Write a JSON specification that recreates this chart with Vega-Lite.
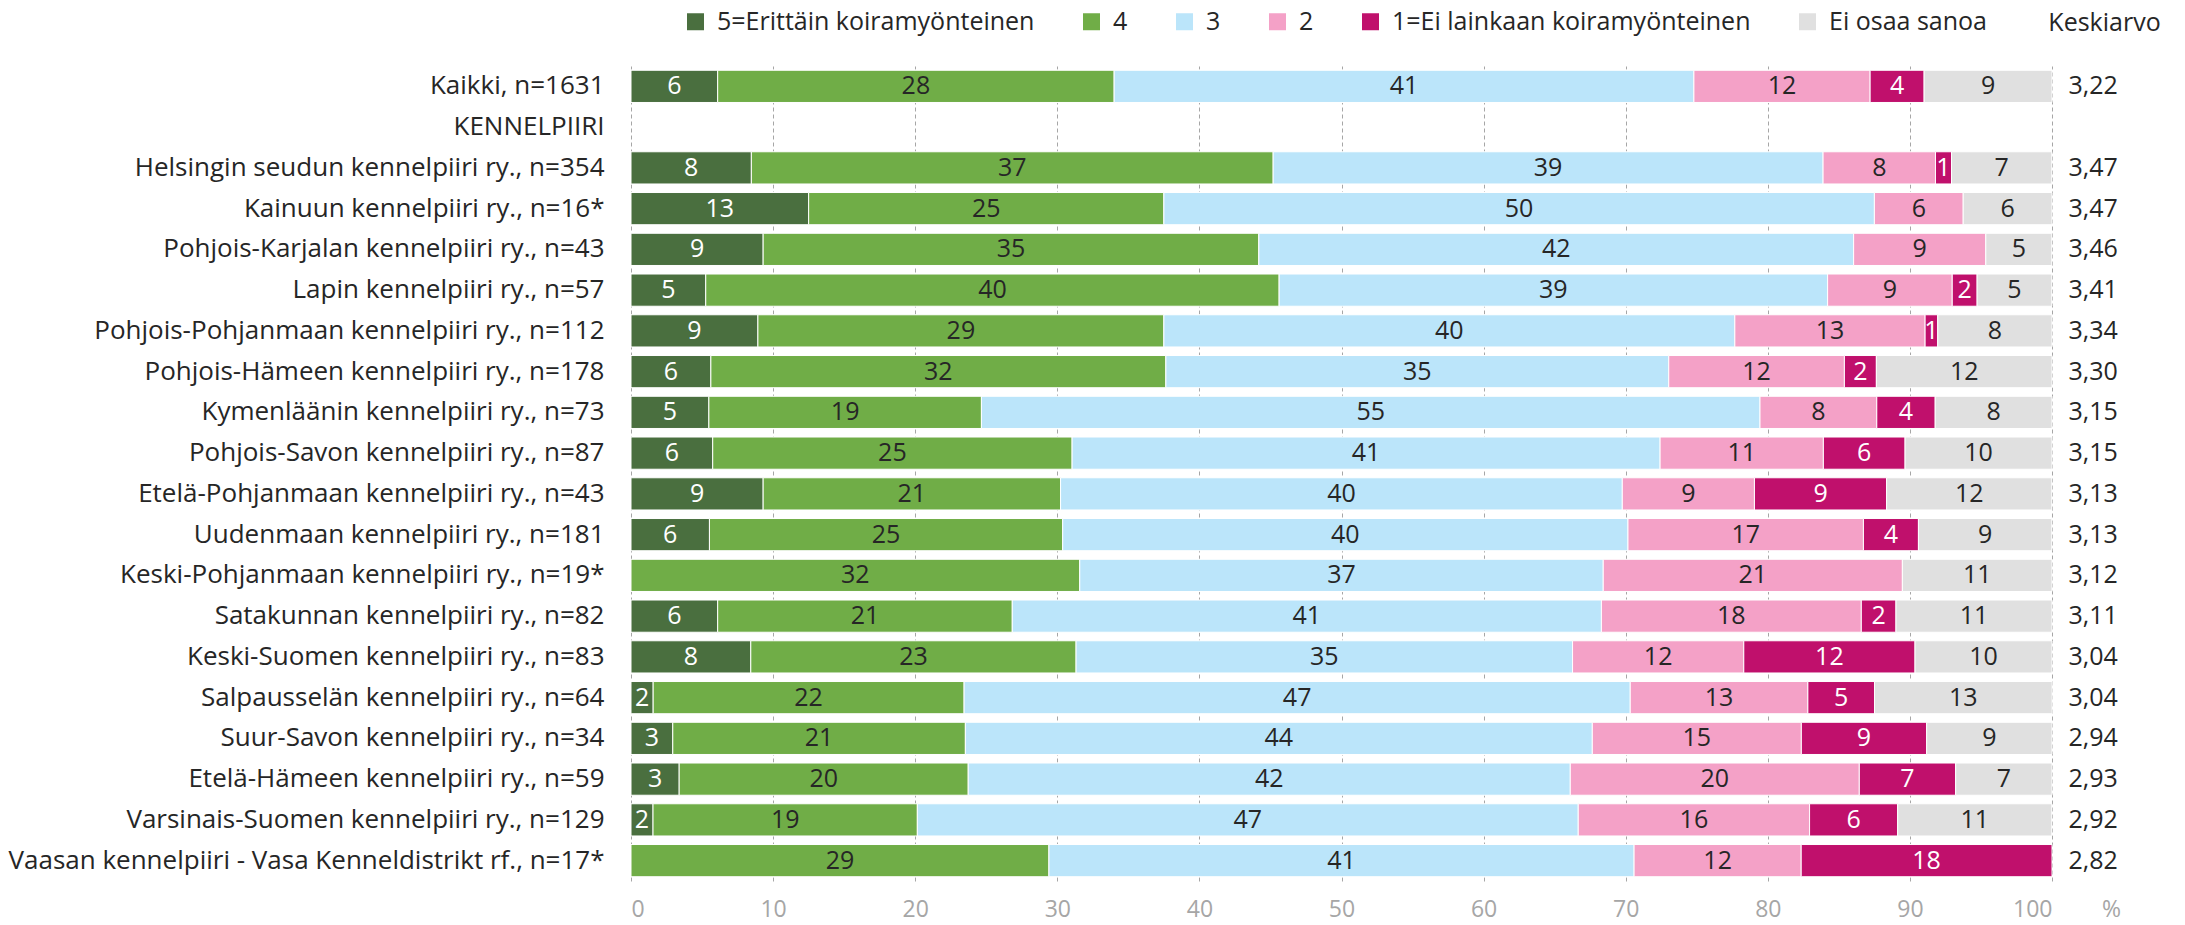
{
  "$schema": "https://vega.github.io/schema/vega-lite/v6.json",
  "width": 1421,
  "height": 815,
  "autosize": {"type": "none"},
  "padding": {"left": 631, "top": 66, "right": 133, "bottom": 44},
  "config": {
    "font": "Open Sans",
    "view": {"stroke": null},
    "locale": {"number": {"decimal": ",", "thousands": " ", "grouping": [3], "currency": ["", " €"]}}
  },
  "datasets": {
    "bars": [
      {"g": "Kaikki, n=1631", "c": "5=Erittäin koiramyönteinen", "k": 1, "v": 6.1},
      {"g": "Kaikki, n=1631", "c": "4", "k": 2, "v": 27.9},
      {"g": "Kaikki, n=1631", "c": "3", "k": 3, "v": 40.8},
      {"g": "Kaikki, n=1631", "c": "2", "k": 4, "v": 12.4},
      {"g": "Kaikki, n=1631", "c": "1=Ei lainkaan koiramyönteinen", "k": 5, "v": 3.8},
      {"g": "Kaikki, n=1631", "c": "Ei osaa sanoa", "k": 6, "v": 9.0},

      {"g": "Helsingin seudun kennelpiiri ry., n=354", "c": "5=Erittäin koiramyönteinen", "k": 1, "v": 8.47},
      {"g": "Helsingin seudun kennelpiiri ry., n=354", "c": "4", "k": 2, "v": 36.72},
      {"g": "Helsingin seudun kennelpiiri ry., n=354", "c": "3", "k": 3, "v": 38.70},
      {"g": "Helsingin seudun kennelpiiri ry., n=354", "c": "2", "k": 4, "v": 7.91},
      {"g": "Helsingin seudun kennelpiiri ry., n=354", "c": "1=Ei lainkaan koiramyönteinen", "k": 5, "v": 1.13},
      {"g": "Helsingin seudun kennelpiiri ry., n=354", "c": "Ei osaa sanoa", "k": 6, "v": 7.06},

      {"g": "Kainuun kennelpiiri ry., n=16*", "c": "5=Erittäin koiramyönteinen", "k": 1, "v": 12.5},
      {"g": "Kainuun kennelpiiri ry., n=16*", "c": "4", "k": 2, "v": 25},
      {"g": "Kainuun kennelpiiri ry., n=16*", "c": "3", "k": 3, "v": 50},
      {"g": "Kainuun kennelpiiri ry., n=16*", "c": "2", "k": 4, "v": 6.25},
      {"g": "Kainuun kennelpiiri ry., n=16*", "c": "Ei osaa sanoa", "k": 6, "v": 6.25},

      {"g": "Pohjois-Karjalan kennelpiiri ry., n=43", "c": "5=Erittäin koiramyönteinen", "k": 1, "v": 9.30},
      {"g": "Pohjois-Karjalan kennelpiiri ry., n=43", "c": "4", "k": 2, "v": 34.88},
      {"g": "Pohjois-Karjalan kennelpiiri ry., n=43", "c": "3", "k": 3, "v": 41.86},
      {"g": "Pohjois-Karjalan kennelpiiri ry., n=43", "c": "2", "k": 4, "v": 9.30},
      {"g": "Pohjois-Karjalan kennelpiiri ry., n=43", "c": "Ei osaa sanoa", "k": 6, "v": 4.65},

      {"g": "Lapin kennelpiiri ry., n=57", "c": "5=Erittäin koiramyönteinen", "k": 1, "v": 5.26},
      {"g": "Lapin kennelpiiri ry., n=57", "c": "4", "k": 2, "v": 40.35},
      {"g": "Lapin kennelpiiri ry., n=57", "c": "3", "k": 3, "v": 38.60},
      {"g": "Lapin kennelpiiri ry., n=57", "c": "2", "k": 4, "v": 8.77},
      {"g": "Lapin kennelpiiri ry., n=57", "c": "1=Ei lainkaan koiramyönteinen", "k": 5, "v": 1.75},
      {"g": "Lapin kennelpiiri ry., n=57", "c": "Ei osaa sanoa", "k": 6, "v": 5.26},

      {"g": "Pohjois-Pohjanmaan kennelpiiri ry., n=112", "c": "5=Erittäin koiramyönteinen", "k": 1, "v": 8.93},
      {"g": "Pohjois-Pohjanmaan kennelpiiri ry., n=112", "c": "4", "k": 2, "v": 28.57},
      {"g": "Pohjois-Pohjanmaan kennelpiiri ry., n=112", "c": "3", "k": 3, "v": 40.18},
      {"g": "Pohjois-Pohjanmaan kennelpiiri ry., n=112", "c": "2", "k": 4, "v": 13.39},
      {"g": "Pohjois-Pohjanmaan kennelpiiri ry., n=112", "c": "1=Ei lainkaan koiramyönteinen", "k": 5, "v": 0.89},
      {"g": "Pohjois-Pohjanmaan kennelpiiri ry., n=112", "c": "Ei osaa sanoa", "k": 6, "v": 8.04},

      {"g": "Pohjois-Hämeen kennelpiiri ry., n=178", "c": "5=Erittäin koiramyönteinen", "k": 1, "v": 5.62},
      {"g": "Pohjois-Hämeen kennelpiiri ry., n=178", "c": "4", "k": 2, "v": 32.02},
      {"g": "Pohjois-Hämeen kennelpiiri ry., n=178", "c": "3", "k": 3, "v": 35.39},
      {"g": "Pohjois-Hämeen kennelpiiri ry., n=178", "c": "2", "k": 4, "v": 12.36},
      {"g": "Pohjois-Hämeen kennelpiiri ry., n=178", "c": "1=Ei lainkaan koiramyönteinen", "k": 5, "v": 2.25},
      {"g": "Pohjois-Hämeen kennelpiiri ry., n=178", "c": "Ei osaa sanoa", "k": 6, "v": 12.36},

      {"g": "Kymenläänin kennelpiiri ry., n=73", "c": "5=Erittäin koiramyönteinen", "k": 1, "v": 5.48},
      {"g": "Kymenläänin kennelpiiri ry., n=73", "c": "4", "k": 2, "v": 19.18},
      {"g": "Kymenläänin kennelpiiri ry., n=73", "c": "3", "k": 3, "v": 54.79},
      {"g": "Kymenläänin kennelpiiri ry., n=73", "c": "2", "k": 4, "v": 8.22},
      {"g": "Kymenläänin kennelpiiri ry., n=73", "c": "1=Ei lainkaan koiramyönteinen", "k": 5, "v": 4.11},
      {"g": "Kymenläänin kennelpiiri ry., n=73", "c": "Ei osaa sanoa", "k": 6, "v": 8.22},

      {"g": "Pohjois-Savon kennelpiiri ry., n=87", "c": "5=Erittäin koiramyönteinen", "k": 1, "v": 5.75},
      {"g": "Pohjois-Savon kennelpiiri ry., n=87", "c": "4", "k": 2, "v": 25.29},
      {"g": "Pohjois-Savon kennelpiiri ry., n=87", "c": "3", "k": 3, "v": 41.38},
      {"g": "Pohjois-Savon kennelpiiri ry., n=87", "c": "2", "k": 4, "v": 11.49},
      {"g": "Pohjois-Savon kennelpiiri ry., n=87", "c": "1=Ei lainkaan koiramyönteinen", "k": 5, "v": 5.75},
      {"g": "Pohjois-Savon kennelpiiri ry., n=87", "c": "Ei osaa sanoa", "k": 6, "v": 10.34},

      {"g": "Etelä-Pohjanmaan kennelpiiri ry., n=43", "c": "5=Erittäin koiramyönteinen", "k": 1, "v": 9.30},
      {"g": "Etelä-Pohjanmaan kennelpiiri ry., n=43", "c": "4", "k": 2, "v": 20.93},
      {"g": "Etelä-Pohjanmaan kennelpiiri ry., n=43", "c": "3", "k": 3, "v": 39.53},
      {"g": "Etelä-Pohjanmaan kennelpiiri ry., n=43", "c": "2", "k": 4, "v": 9.30},
      {"g": "Etelä-Pohjanmaan kennelpiiri ry., n=43", "c": "1=Ei lainkaan koiramyönteinen", "k": 5, "v": 9.30},
      {"g": "Etelä-Pohjanmaan kennelpiiri ry., n=43", "c": "Ei osaa sanoa", "k": 6, "v": 11.63},

      {"g": "Uudenmaan kennelpiiri ry., n=181", "c": "5=Erittäin koiramyönteinen", "k": 1, "v": 5.52},
      {"g": "Uudenmaan kennelpiiri ry., n=181", "c": "4", "k": 2, "v": 24.86},
      {"g": "Uudenmaan kennelpiiri ry., n=181", "c": "3", "k": 3, "v": 39.78},
      {"g": "Uudenmaan kennelpiiri ry., n=181", "c": "2", "k": 4, "v": 16.57},
      {"g": "Uudenmaan kennelpiiri ry., n=181", "c": "1=Ei lainkaan koiramyönteinen", "k": 5, "v": 3.87},
      {"g": "Uudenmaan kennelpiiri ry., n=181", "c": "Ei osaa sanoa", "k": 6, "v": 9.39},

      {"g": "Keski-Pohjanmaan kennelpiiri ry., n=19*", "c": "4", "k": 2, "v": 31.58},
      {"g": "Keski-Pohjanmaan kennelpiiri ry., n=19*", "c": "3", "k": 3, "v": 36.84},
      {"g": "Keski-Pohjanmaan kennelpiiri ry., n=19*", "c": "2", "k": 4, "v": 21.05},
      {"g": "Keski-Pohjanmaan kennelpiiri ry., n=19*", "c": "Ei osaa sanoa", "k": 6, "v": 10.53},

      {"g": "Satakunnan kennelpiiri ry., n=82", "c": "5=Erittäin koiramyönteinen", "k": 1, "v": 6.10},
      {"g": "Satakunnan kennelpiiri ry., n=82", "c": "4", "k": 2, "v": 20.73},
      {"g": "Satakunnan kennelpiiri ry., n=82", "c": "3", "k": 3, "v": 41.46},
      {"g": "Satakunnan kennelpiiri ry., n=82", "c": "2", "k": 4, "v": 18.29},
      {"g": "Satakunnan kennelpiiri ry., n=82", "c": "1=Ei lainkaan koiramyönteinen", "k": 5, "v": 2.44},
      {"g": "Satakunnan kennelpiiri ry., n=82", "c": "Ei osaa sanoa", "k": 6, "v": 10.98},

      {"g": "Keski-Suomen kennelpiiri ry., n=83", "c": "5=Erittäin koiramyönteinen", "k": 1, "v": 8.43},
      {"g": "Keski-Suomen kennelpiiri ry., n=83", "c": "4", "k": 2, "v": 22.89},
      {"g": "Keski-Suomen kennelpiiri ry., n=83", "c": "3", "k": 3, "v": 34.94},
      {"g": "Keski-Suomen kennelpiiri ry., n=83", "c": "2", "k": 4, "v": 12.05},
      {"g": "Keski-Suomen kennelpiiri ry., n=83", "c": "1=Ei lainkaan koiramyönteinen", "k": 5, "v": 12.05},
      {"g": "Keski-Suomen kennelpiiri ry., n=83", "c": "Ei osaa sanoa", "k": 6, "v": 9.64},

      {"g": "Salpausselän kennelpiiri ry., n=64", "c": "5=Erittäin koiramyönteinen", "k": 1, "v": 1.56},
      {"g": "Salpausselän kennelpiiri ry., n=64", "c": "4", "k": 2, "v": 21.88},
      {"g": "Salpausselän kennelpiiri ry., n=64", "c": "3", "k": 3, "v": 46.88},
      {"g": "Salpausselän kennelpiiri ry., n=64", "c": "2", "k": 4, "v": 12.5},
      {"g": "Salpausselän kennelpiiri ry., n=64", "c": "1=Ei lainkaan koiramyönteinen", "k": 5, "v": 4.69},
      {"g": "Salpausselän kennelpiiri ry., n=64", "c": "Ei osaa sanoa", "k": 6, "v": 12.5},

      {"g": "Suur-Savon kennelpiiri ry., n=34", "c": "5=Erittäin koiramyönteinen", "k": 1, "v": 2.94},
      {"g": "Suur-Savon kennelpiiri ry., n=34", "c": "4", "k": 2, "v": 20.59},
      {"g": "Suur-Savon kennelpiiri ry., n=34", "c": "3", "k": 3, "v": 44.12},
      {"g": "Suur-Savon kennelpiiri ry., n=34", "c": "2", "k": 4, "v": 14.71},
      {"g": "Suur-Savon kennelpiiri ry., n=34", "c": "1=Ei lainkaan koiramyönteinen", "k": 5, "v": 8.82},
      {"g": "Suur-Savon kennelpiiri ry., n=34", "c": "Ei osaa sanoa", "k": 6, "v": 8.82},

      {"g": "Etelä-Hämeen kennelpiiri ry., n=59", "c": "5=Erittäin koiramyönteinen", "k": 1, "v": 3.39},
      {"g": "Etelä-Hämeen kennelpiiri ry., n=59", "c": "4", "k": 2, "v": 20.34},
      {"g": "Etelä-Hämeen kennelpiiri ry., n=59", "c": "3", "k": 3, "v": 42.37},
      {"g": "Etelä-Hämeen kennelpiiri ry., n=59", "c": "2", "k": 4, "v": 20.34},
      {"g": "Etelä-Hämeen kennelpiiri ry., n=59", "c": "1=Ei lainkaan koiramyönteinen", "k": 5, "v": 6.78},
      {"g": "Etelä-Hämeen kennelpiiri ry., n=59", "c": "Ei osaa sanoa", "k": 6, "v": 6.78},

      {"g": "Varsinais-Suomen kennelpiiri ry., n=129", "c": "5=Erittäin koiramyönteinen", "k": 1, "v": 1.55},
      {"g": "Varsinais-Suomen kennelpiiri ry., n=129", "c": "4", "k": 2, "v": 18.60},
      {"g": "Varsinais-Suomen kennelpiiri ry., n=129", "c": "3", "k": 3, "v": 46.51},
      {"g": "Varsinais-Suomen kennelpiiri ry., n=129", "c": "2", "k": 4, "v": 16.28},
      {"g": "Varsinais-Suomen kennelpiiri ry., n=129", "c": "1=Ei lainkaan koiramyönteinen", "k": 5, "v": 6.20},
      {"g": "Varsinais-Suomen kennelpiiri ry., n=129", "c": "Ei osaa sanoa", "k": 6, "v": 10.85},

      {"g": "Vaasan kennelpiiri - Vasa Kenneldistrikt rf., n=17*", "c": "4", "k": 2, "v": 29.41},
      {"g": "Vaasan kennelpiiri - Vasa Kenneldistrikt rf., n=17*", "c": "3", "k": 3, "v": 41.18},
      {"g": "Vaasan kennelpiiri - Vasa Kenneldistrikt rf., n=17*", "c": "2", "k": 4, "v": 11.76},
      {"g": "Vaasan kennelpiiri - Vasa Kenneldistrikt rf., n=17*", "c": "1=Ei lainkaan koiramyönteinen", "k": 5, "v": 17.65}
    ],
    "means": [
      {"g": "Kaikki, n=1631", "m": 3.22},
      {"g": "Helsingin seudun kennelpiiri ry., n=354", "m": 3.47},
      {"g": "Kainuun kennelpiiri ry., n=16*", "m": 3.47},
      {"g": "Pohjois-Karjalan kennelpiiri ry., n=43", "m": 3.46},
      {"g": "Lapin kennelpiiri ry., n=57", "m": 3.41},
      {"g": "Pohjois-Pohjanmaan kennelpiiri ry., n=112", "m": 3.34},
      {"g": "Pohjois-Hämeen kennelpiiri ry., n=178", "m": 3.30},
      {"g": "Kymenläänin kennelpiiri ry., n=73", "m": 3.15},
      {"g": "Pohjois-Savon kennelpiiri ry., n=87", "m": 3.15},
      {"g": "Etelä-Pohjanmaan kennelpiiri ry., n=43", "m": 3.13},
      {"g": "Uudenmaan kennelpiiri ry., n=181", "m": 3.13},
      {"g": "Keski-Pohjanmaan kennelpiiri ry., n=19*", "m": 3.12},
      {"g": "Satakunnan kennelpiiri ry., n=82", "m": 3.11},
      {"g": "Keski-Suomen kennelpiiri ry., n=83", "m": 3.04},
      {"g": "Salpausselän kennelpiiri ry., n=64", "m": 3.04},
      {"g": "Suur-Savon kennelpiiri ry., n=34", "m": 2.94},
      {"g": "Etelä-Hämeen kennelpiiri ry., n=59", "m": 2.93},
      {"g": "Varsinais-Suomen kennelpiiri ry., n=129", "m": 2.92},
      {"g": "Vaasan kennelpiiri - Vasa Kenneldistrikt rf., n=17*", "m": 2.82}
    ]
  },
  "encoding": {
    "y": {
      "field": "g",
      "type": "nominal",
      "title": "Keskiarvo",
      "scale": {
        "domain": [
          "Kaikki, n=1631",
          "KENNELPIIRI",
          "Helsingin seudun kennelpiiri ry., n=354",
          "Kainuun kennelpiiri ry., n=16*",
          "Pohjois-Karjalan kennelpiiri ry., n=43",
          "Lapin kennelpiiri ry., n=57",
          "Pohjois-Pohjanmaan kennelpiiri ry., n=112",
          "Pohjois-Hämeen kennelpiiri ry., n=178",
          "Kymenläänin kennelpiiri ry., n=73",
          "Pohjois-Savon kennelpiiri ry., n=87",
          "Etelä-Pohjanmaan kennelpiiri ry., n=43",
          "Uudenmaan kennelpiiri ry., n=181",
          "Keski-Pohjanmaan kennelpiiri ry., n=19*",
          "Satakunnan kennelpiiri ry., n=82",
          "Keski-Suomen kennelpiiri ry., n=83",
          "Salpausselän kennelpiiri ry., n=64",
          "Suur-Savon kennelpiiri ry., n=34",
          "Etelä-Hämeen kennelpiiri ry., n=59",
          "Varsinais-Suomen kennelpiiri ry., n=129",
          "Vaasan kennelpiiri - Vasa Kenneldistrikt rf., n=17*"
        ],
        "paddingInner": 0.21,
        "paddingOuter": 0.105
      },
      "axis": {
        "domain": false,
        "ticks": false,
        "tickSize": 0,
        "labelPadding": 27,
        "labelFontSize": 26,
        "labelFont": "Open Sans",
        "labelColor": "#262626",
        "labelLimit": 800,
        "titleAngle": 0,
        "titleX": 1473,
        "titleY": -44,
        "titleAlign": "center",
        "titleBaseline": "middle",
        "titleFontSize": 25,
        "titleFont": "Open Sans",
        "titleFontWeight": "normal",
        "titleColor": "#262626"
      }
    }
  },
  "layer": [
    {
      "data": {"name": "bars"},
      "transform": [
        {"stack": "v", "groupby": ["g"], "sort": [{"field": "k", "order": "ascending"}], "as": ["x0", "x1"]}
      ],
      "layer": [
        {
          "mark": {"type": "bar", "stroke": "white", "strokeWidth": 1},
          "encoding": {
            "x": {
              "field": "x0",
              "type": "quantitative",
              "scale": {"domain": [0, 100], "nice": false},
              "title": "%",
              "axis": {
                "values": [0, 10, 20, 30, 40, 50, 60, 70, 80, 90, 100],
                "grid": true,
                "gridDash": [4, 3],
                "gridColor": "#a6a6a6",
                "gridWidth": 1,
                "domain": false,
                "ticks": false,
                "tickSize": 0,
                "labelFontSize": 23,
                "labelFont": "Open Sans",
                "labelColor": "#a6a6a6",
                "labelBaseline": "middle",
                "labelPadding": 28,
                "titleFontSize": 23,
                "titleFont": "Open Sans",
                "titleFontWeight": "normal",
                "titleColor": "#a6a6a6",
                "titleX": 1480,
                "titleY": 28,
                "titleAlign": "center",
                "titleBaseline": "middle"
              }
            },
            "x2": {"field": "x1"},
            "color": {
              "field": "c",
              "type": "nominal",
              "scale": {
                "domain": ["5=Erittäin koiramyönteinen", "4", "3", "2", "1=Ei lainkaan koiramyönteinen", "Ei osaa sanoa"],
                "range": ["#4a6f3f", "#70ad47", "#bbe5fa", "#f4a1c7", "#c0106c", "#e0e0e0"]
              },
              "legend": {
                "orient": "none",
                "legendX": 52,
                "legendY": -57,
                "direction": "horizontal",
                "title": null,
                "symbolType": "square",
                "symbolSize": 289,
                "symbolStrokeWidth": 0,
                "labelFontSize": 25,
                "labelFont": "Open Sans",
                "labelColor": "#262626",
                "labelOffset": 9,
                "columnPadding": 44,
                "padding": 0,
                "labelLimit": 600
              }
            }
          }
        },
        {
          "transform": [{"calculate": "(datum.x0 + datum.x1) / 2", "as": "xm"}],
          "mark": {"type": "text", "fontSize": 25, "font": "Open Sans", "align": "center", "baseline": "middle"},
          "encoding": {
            "x": {"field": "xm", "type": "quantitative"},
            "text": {"field": "v", "type": "quantitative", "format": ".0f"},
            "color": {
              "condition": {"test": "datum.k == 1 || datum.k == 5", "value": "#ffffff"},
              "value": "#262626"
            }
          }
        }
      ]
    },
    {
      "data": {"name": "means"},
      "mark": {"type": "text", "fontSize": 25, "font": "Open Sans", "align": "center", "baseline": "middle", "color": "#262626"},
      "encoding": {
        "x": {"datum": 102.9, "type": "quantitative"},
        "text": {"field": "m", "type": "quantitative", "format": ".2f"}
      }
    }
  ]
}
